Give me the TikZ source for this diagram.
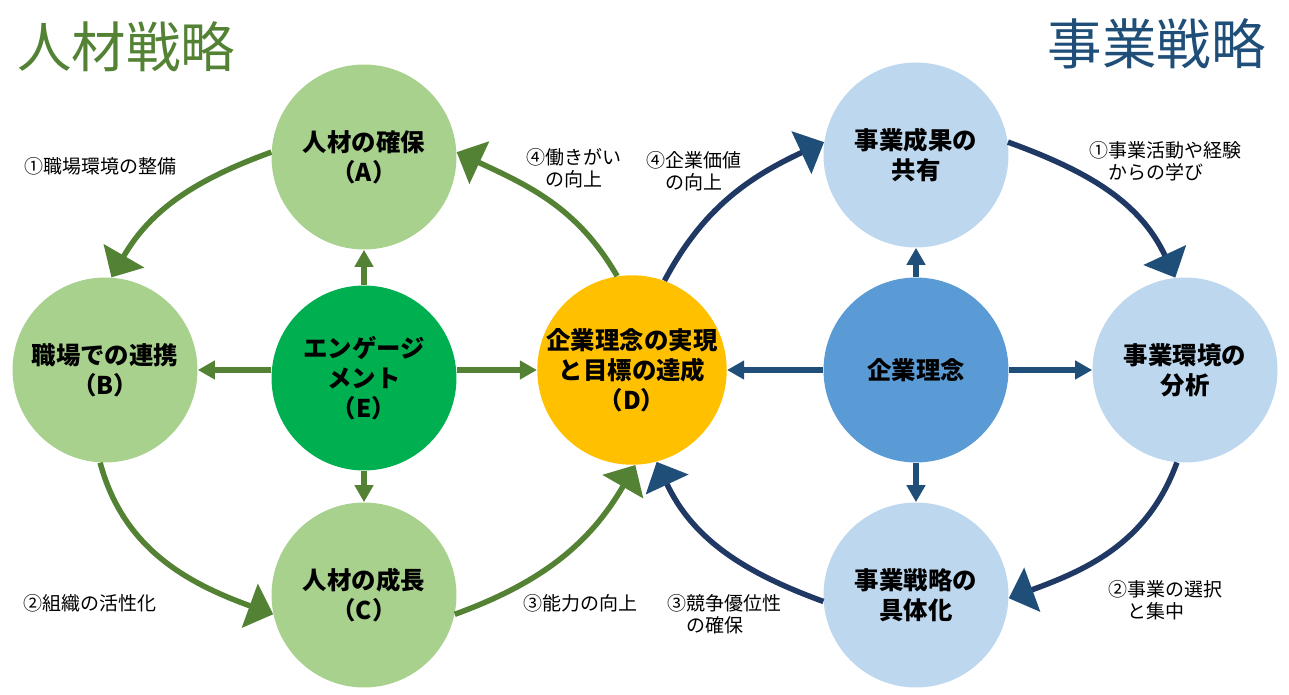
\documentclass[tikz,border=0pt]{standalone}
\usepackage{fontspec}
\setmainfont{Noto Sans CJK JP}
\usepackage{tikz}
\usetikzlibrary{arrows.meta}
\definecolor{leaf}{HTML}{548235}
\definecolor{paleleaf}{HTML}{A9D18E}
\definecolor{deepgreen}{HTML}{00B050}
\definecolor{gold}{HTML}{FFC000}
\definecolor{navy}{HTML}{203864}
\definecolor{steel}{HTML}{1F4E79}
\definecolor{skyblue}{HTML}{BDD7EE}
\definecolor{midblue}{HTML}{5B9BD5}
\tikzset{
    bubble/.style={circle, minimum size=3.7cm, inner sep=0pt, align=center,
        font=\bfseries\fontsize{13.9}{17}\selectfont},
    lbl/.style={align=left, inner sep=0pt, anchor=west,
        font=\fontsize{10.8}{12.5}\selectfont},
    loopG/.style={draw=leaf, line width=0.11cm, -{Triangle[length=0.5cm, width=0.92cm]}},
    loopB/.style={draw=navy, line width=0.11cm, -{Triangle[length=0.5cm, width=0.92cm, color=steel]}},
    spokeG/.style={draw=leaf, line width=0.11cm, -{Triangle[length=0.34cm, width=0.36cm]}},
    spokeB/.style={draw=steel, line width=0.11cm, -{Triangle[length=0.34cm, width=0.36cm]}}
}
\def\Bubble (#1) at (#2, #3) fill (#4) #5; {
    \node[bubble, fill=#4] (#1) at (#2, #3) {#5};
}

\begin{document}
\begin{tikzpicture}[x=0.02cm, y=0.02cm]
        \useasboundingbox (0, 0) rectangle (1289, 694);
        \node[anchor=west, inner sep=0pt, text=leaf, font=\fontsize{31}{34}\selectfont] (titleL) at (17, 647) {人材戦略};
        \node[anchor=east, inner sep=0pt, text=steel, font=\fontsize{31}{34}\selectfont] (titleR) at (1266, 650) {事業戦略};
        % human resources side
        \Bubble (A) at (364, 537) fill (paleleaf) {人材の確保\\（A）};
        \Bubble (B) at (105, 324) fill (paleleaf) {職場での連携\\（B）};
        \Bubble (C) at (364, 99) fill (paleleaf) {人材の成長\\（C）};
        \Bubble (E) at (364, 316) fill (deepgreen) {エンゲージ\\メント\\（E）};
        \Bubble (D) at (632, 324) fill (gold) {企業理念の実現\\と目標の達成\\（D）};
        % business side
        \Bubble (F) at (916, 539) fill (skyblue) {事業成果の\\共有};
        \Bubble (G) at (916, 324) fill (midblue) {企業理念};
        \Bubble (H) at (1185, 324) fill (skyblue) {事業環境の\\分析};
        \Bubble (I) at (916, 99) fill (skyblue) {事業戦略の\\具体化};
        \draw[spokeG] (E.north) -- (A.south);
        \draw[spokeG] (E.south) -- (C.north);
        \draw[spokeG] (E.west |- B.east) -- (B.east);
        \draw[spokeG] (E.east |- D.west) -- (D.west);
        \draw[spokeB] (G.north) -- (F.south);
        \draw[spokeB] (G.south) -- (I.north);
        \draw[spokeB] (G.west) -- (D.east);
        \draw[spokeB] (G.east) -- (H.west);
        \draw[loopG] (A.177) to[out=200, in=60] (B.86);
        \draw[loopG] (B.267) to[out=-75, in=160] (C.192);
        \draw[loopG] (C.-12) to[out=20, in=240] (D.-88);
        \draw[loopG] (D.99) to[out=120, in=-25] (A.3);
        \draw[loopB] (D.70) to[out=62, in=205] (F.172);
        \draw[loopB] (F.8) to[out=-20, in=115] (H.96);
        \draw[loopB] (H.265) to[out=250, in=20] (I.-2);
        \draw[loopB] (I.184) to[out=160, in=-65] (D.-75);
        \node[lbl] (l1) at (24, 528) {①職場環境の整備};
        \node[lbl] (l2) at (23, 91) {②組織の活性化};
        \node[lbl] (l3) at (523, 91) {③能力の向上};
        \node[lbl] (l4) at (526, 526) {④働きがい\\\hphantom{④}の向上};
        \node[lbl] (r4) at (646, 523) {④企業価値\\\hphantom{④}の向上};
        \node[lbl] (r1) at (1089, 533) {①事業活動や経験\\\hphantom{①}からの学び};
        \node[lbl] (r2) at (1108, 94) {②事業の選択\\\hphantom{②}と集中};
        \node[lbl] (r3) at (667, 80) {③競争優位性\\\hphantom{③}の確保};
\end{tikzpicture}
\end{document}
